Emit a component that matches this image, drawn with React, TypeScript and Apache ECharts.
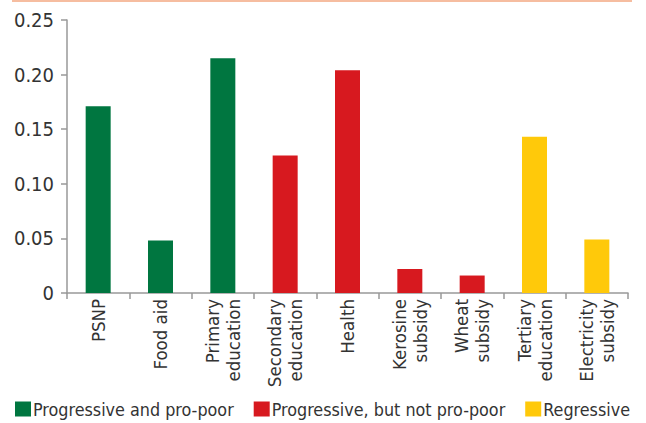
import React, { useEffect, useRef } from "react";
import * as echarts from "echarts";

const categories = [
  "PSNP",
  "Food aid",
  "Primary\neducation",
  "Secondary\neducation",
  "Health",
  "Kerosine\nsubsidy",
  "Wheat\nsubsidy",
  "Tertiary\neducation",
  "Electricity\nsubsidy",
];
const groupNames = ["Progressive and pro-poor", "Progressive, but not pro-poor", "Regressive"];
const values = [0.171, 0.048, 0.215, 0.126, 0.204, 0.022, 0.016, 0.143, 0.049];
const groupOf = [0, 0, 0, 1, 1, 1, 1, 2, 2];
const colors = ["#007640", "#d7191f", "#ffc90a"];

const FONT = "DejaVu Sans Condensed";

export default function App() {
  const ref = useRef<HTMLDivElement>(null);
  useEffect(() => {
    const chart = echarts.init(ref.current!, null, { renderer: "svg" });
    const series = groupNames.map((name, g) => ({
      name,
      type: "bar",
      barWidth: 25,
      barGap: "-100%",
      itemStyle: { color: colors[g] },
      data: values.map((v, i) => (groupOf[i] === g ? v : null)),
    }));
    chart.setOption({
      animation: false,
      textStyle: { fontFamily: FONT },
      grid: { left: 67, right: 18, top: 20, bottom: 130 },
      graphic: [
        {
          type: "line",
          shape: { x1: 12, y1: 1, x2: 632, y2: 1 },
          style: { stroke: "#f6bda0", lineWidth: 2 },
        },
      ],
      legend: {
        top: 400,
        left: 15,
        width: 640,
        padding: 0,
        itemWidth: 16,
        itemHeight: 15,
        itemGap: 20,
        icon: "rect",
        textStyle: { fontFamily: FONT, fontSize: 17.8, color: "#333", padding: [0, 0, 0, -3] },
        data: groupNames,
      },
      xAxis: {
        type: "category",
        data: categories,
        axisLine: { lineStyle: { color: "#999", width: 1.5 } },
        axisTick: { show: true, length: 6, lineStyle: { color: "#999", width: 1.5 } },
        axisLabel: {
          rotate: 90,
          interval: 0,
          fontFamily: FONT,
          fontSize: 18.5,
          color: "#333",
          lineHeight: 21,
          margin: 6,
        },
      },
      yAxis: {
        type: "value",
        min: 0,
        max: 0.25,
        interval: 0.05,
        splitLine: { show: false },
        axisLine: { show: true, lineStyle: { color: "#999", width: 1.5 } },
        axisTick: { show: true, length: 6, lineStyle: { color: "#999", width: 1.5 } },
        axisLabel: {
          fontFamily: FONT,
          fontSize: 20,
          color: "#333",
          margin: 13,
          formatter: (v: number) => (v === 0 ? "0" : v.toFixed(2)),
        },
      },
      series,
    });
    return () => chart.dispose();
  }, []);
  return <div ref={ref} style={{ width: 646, height: 423, position: "absolute", left: 0, top: 0 }} />;
}
